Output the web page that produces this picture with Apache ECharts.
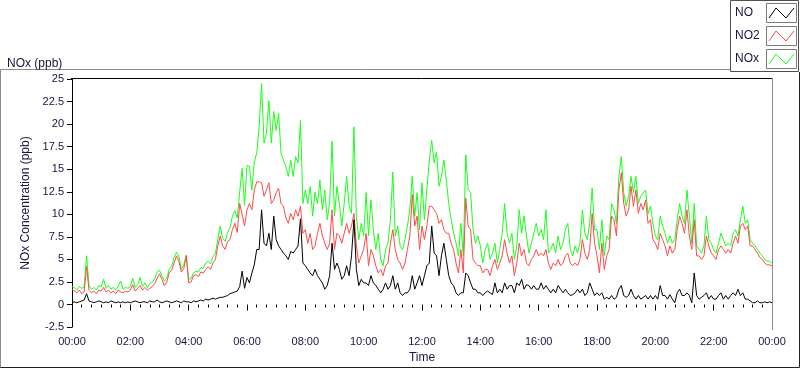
<!DOCTYPE html>
<html>
<head>
<meta charset="utf-8">
<title>NOx (ppb)</title>
<script src="https://cdn.jsdelivr.net/npm/echarts@6/dist/echarts.min.js"></script>
<style>
  html, body { margin: 0; padding: 0; background: #fff; }
  #chart { width: 800px; height: 369px; }
</style>
</head>
<body>
<div id="chart"></div>
<script>
// NOx monitor, one day, a sample every 5 minutes (00:00 .. 24:00)
var stepMinutes = 5;
var seriesNames = ['NO', 'NO2', 'NOx'];
var seriesColors = ['#000000', '#ff4a4a', '#1aff1a'];
var timeTicks = ['00:00', '02:00', '04:00', '06:00', '08:00', '10:00', '12:00',
  '14:00', '16:00', '18:00', '20:00', '22:00', '00:00'];

var noData = [
  0.2,0.3,0.2,0.3,0.4,0.5,1.2,0.4,0.3,0.2,0.3,0.4,   // 00h
  0.3,0.2,0.3,0.2,0.4,0.3,0.2,0.3,0.2,0.3,0.2,0.3,   // 01h
  0.2,0.3,0.4,0.3,0.2,0.3,0.3,0.2,0.4,0.3,0.3,0.5,   // 02h
  0.3,0.2,0.3,0.4,0.3,0.2,0.3,0.4,0.3,0.2,0.4,0.3,   // 03h
  0.3,0.2,0.4,0.3,0.4,0.5,0.4,0.6,0.5,0.6,0.7,0.6,   // 04h
  0.7,0.8,0.8,0.9,1.0,1.2,1.3,1.4,1.5,2.0,3.7,1.8,   // 05h
  3.0,2.4,3.5,4.4,6.1,6.1,10.5,6.8,6.5,7.9,6.1,9.8,  // 06h
  7.2,6.5,6.1,5.7,5.4,5.0,5.9,5.7,6.1,6.5,9.5,4.6,   // 07h
  4.3,3.9,3.5,3.2,3.9,3.2,2.8,2.4,1.7,2.1,3.2,6.8,   // 08h
  3.9,4.6,3.9,2.8,3.2,4.3,3.2,5.4,9.4,3.9,2.1,2.8,   // 09h
  2.4,2.4,2.1,3.2,2.4,2.1,1.7,1.3,1.7,2.4,1.7,2.1,   // 10h
  3.2,1.7,2.4,1.3,1.0,1.3,1.3,1.7,3.2,1.7,2.4,3.2,   // 11h
  2.1,3.2,4.3,4.6,8.7,5.7,5.4,3.2,5.4,6.8,5.0,3.2,   // 12h
  2.4,2.1,1.3,1.0,1.3,1.3,3.5,3.2,2.4,1.7,1.7,1.3,   // 13h
  1.3,1.0,1.3,1.5,1.3,1.1,2.4,1.3,1.7,1.3,2.4,1.7,   // 14h
  2.1,2.1,1.3,2.4,2.1,2.8,1.7,2.2,2.1,1.7,2.1,1.7,   // 15h
  1.7,2.4,1.7,2.1,1.7,1.3,1.7,1.3,2.1,1.7,1.3,1.7,   // 16h
  1.3,1.0,1.1,1.3,1.7,1.3,1.7,1.0,1.3,2.4,1.7,1.0,   // 17h
  1.3,1.0,1.3,0.6,0.8,0.6,1.0,0.6,0.8,1.7,2.1,1.0,   // 18h
  0.8,1.0,1.7,1.0,0.6,1.0,0.6,0.8,1.0,0.6,1.0,0.6,   // 19h
  1.0,0.6,2.1,1.0,1.0,0.6,1.1,0.6,0.2,1.3,1.7,1.0,   // 20h
  1.0,1.3,1.0,0.2,3.5,1.0,0.6,0.8,1.0,1.3,0.6,1.0,   // 21h
  0.6,0.6,1.0,1.3,0.6,1.0,0.6,1.0,1.3,1.0,1.7,1.0,   // 22h
  1.3,0.6,0.6,0.4,0.2,0.2,0.4,0.2,0.2,0.3,0.2,0.3,   // 23h
  0.2
];

var no2Data = [
  1.7,1.5,1.3,1.6,1.2,1.4,4.2,1.6,1.3,1.5,1.2,1.6,
  1.5,1.9,1.4,1.6,1.3,1.5,1.2,1.6,1.4,1.3,1.5,1.4,
  1.6,2.2,1.5,1.8,2.1,1.6,1.9,1.6,1.8,2.0,2.3,2.9,
  3.4,2.8,2.1,2.5,3.5,3.8,4.6,5.4,4.8,3.6,4.0,5.4,
  2.4,2.5,3.2,3.3,3.1,3.6,3.5,3.9,4.2,3.9,4.6,5.0,
  6.5,7.6,6.5,6.1,7.0,7.2,8.3,9.0,8.0,11.2,10.0,8.7,
  10.5,11.2,10.5,12.7,13.6,13.6,13.5,12.0,12.7,13.5,11.2,11.6,
  12.4,12.9,11.2,10.9,9.6,9.0,10.1,9.4,10.5,9.8,10.9,7.9,
  8.3,6.8,7.9,6.1,6.5,7.9,9.0,7.6,6.8,6.1,6.8,10.5,
  6.1,7.9,7.6,6.8,7.9,9.0,7.9,8.7,10.1,6.5,4.6,5.4,
  6.1,7.9,4.3,6.1,5.4,4.3,3.5,3.9,3.2,4.3,4.6,6.8,
  8.3,6.1,5.0,4.6,3.9,4.6,6.1,7.6,12.2,8.7,9.8,6.1,
  8.7,7.2,8.7,10.9,10.9,10.5,10.1,9.0,9.4,8.3,7.9,7.9,
  6.8,6.1,4.6,3.5,6.1,3.5,11.8,8.7,8.3,5.0,4.6,4.3,
  4.3,3.5,3.9,3.9,3.2,4.3,5.0,3.9,4.6,5.4,7.2,5.7,
  4.6,5.4,3.2,4.6,6.8,5.4,6.1,4.6,4.3,5.0,5.4,6.1,
  5.4,5.7,5.4,6.1,4.6,3.9,4.6,4.3,5.0,4.3,4.6,5.4,
  5.7,4.6,4.3,4.6,4.3,5.0,7.2,5.7,5.0,6.1,10.1,6.8,
  5.4,3.5,6.8,3.9,5.4,6.1,9.8,9.4,7.6,12.7,14.6,11.2,
  9.8,10.5,13.1,10.9,12.7,10.1,11.2,10.5,11.6,9.0,9.4,7.2,
  6.8,6.1,7.9,7.2,6.5,5.4,6.5,5.7,6.1,8.3,9.8,9.0,
  7.9,10.5,7.6,6.1,9.4,5.4,5.4,5.0,5.4,7.6,6.5,5.7,
  5.4,5.0,6.1,6.5,6.1,5.7,6.1,5.7,6.8,7.6,6.8,8.7,
  9.0,8.3,8.7,6.5,6.5,6.1,5.7,5.2,5.0,4.6,4.4,4.4,
  4.3
];

var noxData = [
  2.0,1.9,1.6,2.0,1.8,1.9,5.4,2.1,1.7,1.9,1.6,2.1,
  2.0,2.8,1.8,2.1,1.7,1.9,1.6,2.0,2.6,1.7,1.9,1.8,
  2.0,2.9,1.9,2.2,3.0,2.0,2.4,1.9,2.3,2.5,2.8,3.6,
  3.8,3.2,2.6,2.9,3.9,4.3,5.2,5.8,5.3,3.9,4.4,5.5,
  2.8,2.9,3.5,3.7,3.6,4.1,4.0,4.6,4.8,4.5,5.3,5.7,
  7.2,8.7,7.3,7.0,8.0,8.5,9.8,10.4,9.6,12.5,15.1,11.0,
  15.4,15.3,12.7,15.8,16.8,19.7,24.5,17.9,19.0,22.6,17.9,21.4,
  19.3,21.2,16.8,16.0,15.3,14.2,16.0,14.2,16.4,15.7,20.4,11.2,
  12.7,11.2,13.1,9.8,12.5,11.2,13.8,10.5,12.7,9.4,11.2,18.1,
  9.8,13.1,11.2,8.7,11.2,14.2,10.9,10.1,19.7,9.8,7.2,9.0,
  7.6,12.4,7.6,11.6,8.3,6.1,7.9,5.0,4.3,6.1,6.8,9.4,
  14.7,7.6,8.7,6.5,6.1,7.2,8.7,10.5,14.2,9.8,12.4,8.3,
  13.5,9.4,12.7,16.0,18.2,15.7,16.9,13.1,14.2,16.0,13.8,11.2,
  9.4,7.9,6.8,5.4,9.0,5.4,16.6,12.7,12.4,8.3,6.8,7.6,
  6.5,4.6,6.1,6.8,5.0,5.7,6.8,4.6,6.1,7.9,11.2,7.9,
  6.8,7.9,5.0,6.5,10.5,7.9,9.8,7.6,5.7,6.8,7.9,9.0,
  7.6,8.3,7.2,10.5,5.7,6.1,6.8,5.7,7.6,6.1,6.8,8.3,
  9.0,6.1,5.4,6.5,5.7,6.8,10.5,7.9,7.2,9.0,12.9,8.3,
  8.3,6.1,9.4,5.4,7.6,7.2,11.2,10.5,9.0,14.2,16.4,12.4,
  10.9,12.0,14.2,12.4,14.2,11.2,12.0,12.4,12.7,10.1,10.9,9.0,
  7.6,7.2,9.8,8.7,7.9,6.8,7.6,6.8,7.2,9.4,11.2,9.8,
  9.0,12.7,9.8,6.8,11.2,6.5,6.1,5.7,6.5,9.8,7.2,6.8,
  6.1,5.7,6.8,7.9,7.2,6.5,6.8,6.5,7.9,8.3,7.6,9.4,
  10.9,9.0,9.4,7.2,6.8,6.5,6.1,5.7,5.4,5.0,4.8,4.8,
  4.6
];

var textColor = '#16163e';
var fontFamily = 'Liberation Sans, Arial, sans-serif';

var myChart = echarts.init(document.getElementById('chart'), null, { renderer: 'canvas' });

// pair each reading with its minute of the day
function withTime(values) {
  var out = [];
  for (var i = 0; i < values.length; i++) {
    out.push([i * stepMinutes, values[i]]);
  }
  return out;
}

var allData = [noData, no2Data, noxData];
var series = [];
for (var s = 0; s < seriesNames.length; s++) {
  series.push({
    name: seriesNames[s],
    type: 'line',
    data: withTime(allData[s]),
    showSymbol: false,
    symbol: 'none',
    animation: false,
    z: 10 - s,
    lineStyle: { color: seriesColors[s], width: 1 },
    itemStyle: { color: seriesColors[s] }
  });
}

// legend box drawn LabVIEW style: name + small framed zigzag swatch
var legendGraphics = [{
  type: 'rect',
  shape: { x: 730.5, y: 0.5, width: 68, height: 71 },
  style: { fill: '#fff', stroke: '#505050', lineWidth: 1 },
  z: 20
}];
for (var k = 0; k < seriesNames.length; k++) {
  var rowTop = 4 + k * 23;
  legendGraphics.push({
    type: 'text',
    x: 735, y: rowTop + 9,
    style: { text: seriesNames[k], fill: textColor, font: '12px ' + fontFamily, verticalAlign: 'middle' },
    z: 21
  });
  legendGraphics.push({
    type: 'rect',
    shape: { x: 766.5, y: rowTop - 0.5, width: 30, height: 19 },
    style: { fill: '#fff', stroke: '#7a7a7a', lineWidth: 1 },
    z: 21
  });
  legendGraphics.push({
    type: 'polyline',
    shape: { points: [[769, rowTop + 14], [776, rowTop + 4], [786, rowTop + 14], [794, rowTop + 4]] },
    style: { stroke: seriesColors[k], lineWidth: 1, fill: null },
    z: 22
  });
}

var option = {
  backgroundColor: '#fff',
  animation: false,
  title: {
    text: 'NOx (ppb)',
    left: 2,
    top: 53,
    textStyle: { fontSize: 12, fontWeight: 'normal', color: textColor, fontFamily: fontFamily }
  },
  grid: { left: 72, top: 79, width: 700, height: 251 },
  xAxis: {
    type: 'value',
    min: 0,
    max: 1440,
    interval: 120,
    name: 'Time',
    nameLocation: 'middle',
    nameGap: 24,
    nameTextStyle: { color: textColor, fontSize: 12, fontFamily: fontFamily },
    axisLine: { show: false },
    axisTick: { show: true, length: 6, lineStyle: { color: '#000' } },
    minorTick: { show: true, splitNumber: 6, length: 3, lineStyle: { color: '#000' } },
    splitLine: { show: false },
    axisLabel: {
      color: textColor, fontSize: 11, fontFamily: fontFamily, margin: 9,
      formatter: function (v) { return timeTicks[Math.round(v / 120)]; }
    }
  },
  yAxis: {
    type: 'value',
    min: -2.5,
    max: 25,
    interval: 2.5,
    name: 'NOx Concentration (ppb)',
    nameLocation: 'middle',
    nameRotate: 90,
    nameGap: 38,
    nameTextStyle: { color: textColor, fontSize: 12, fontFamily: fontFamily },
    axisLine: { show: true, lineStyle: { color: '#000', width: 1 } },
    axisTick: { show: true, length: 5, lineStyle: { color: '#000' } },
    splitLine: { show: false },
    axisLabel: { color: textColor, fontSize: 11, fontFamily: fontFamily, margin: 8 }
  },
  graphic: [
    // outer panel frame
    { type: 'polyline', shape: { points: [[0.5, 368], [0.5, 69.5], [730, 69.5]] },
      style: { stroke: '#8c8c8c', lineWidth: 1, fill: null }, z: 1 },
    { type: 'polyline', shape: { points: [[0.5, 367.5], [799.5, 367.5], [799.5, 72]] },
      style: { stroke: '#202020', lineWidth: 1, fill: null }, z: 1 },
    // plot box top edge and right edge
    { type: 'line', shape: { x1: 71, y1: 78.5, x2: 772, y2: 78.5 },
      style: { stroke: '#000', lineWidth: 1 }, z: 5 },
    { type: 'line', shape: { x1: 772.5, y1: 78, x2: 772.5, y2: 330 },
      style: { stroke: '#8c8c8c', lineWidth: 1 }, z: 5 }
  ].concat(legendGraphics),
  series: series
};

myChart.setOption(option);
</script>
</body>
</html>
